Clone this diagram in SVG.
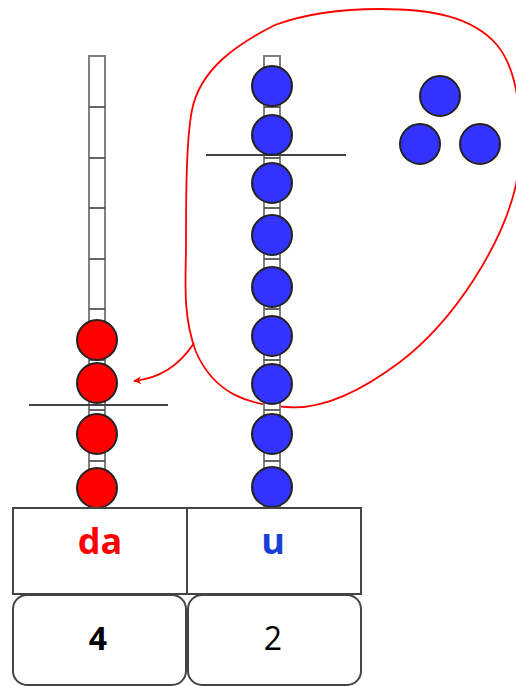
<svg xmlns="http://www.w3.org/2000/svg" width="516" height="686" viewBox="0 0 516 686">
<defs>
<style>
.rod{fill:#fff;stroke:#808080;stroke-width:2}
.rung{stroke:#555;stroke-width:1.8}
.red{fill:#ff0000;stroke:#222;stroke-width:2}
.blue{fill:#3333ff;stroke:#222;stroke-width:2}
.bar{stroke:#444;stroke-width:1.8}
.box{fill:#fff;stroke:#444;stroke-width:2}
.lbl{font-family:"Open Sans","Liberation Sans",sans-serif;font-weight:bold;font-size:36px;text-anchor:middle}
.num{font-family:"Open Sans","Liberation Sans",sans-serif;font-size:32px;text-anchor:middle;fill:#000}
</style>
<marker id="ah" viewBox="0 0 10 10" refX="9" refY="5" markerWidth="8" markerHeight="8" orient="auto" markerUnits="userSpaceOnUse">
<path d="M0,0 L10,5 L0,10 L3,5 Z" fill="#ff0000"/>
</marker>
</defs>
<rect width="516" height="686" fill="#fff"/>

<g id="blob">
<path d="M380,9 C430,9 472,16 497,45 C522,75 524,140 516,185 C502,245 455,320 400,362 C360,392 320,410 287,407 C250,405 215,395 196,352 C184,320 185,290 186,250 C186,200 186,140 192,110 C200,70 235,45 275,25 C310,12 345,9 380,9 Z" fill="none" stroke="#ff0000" stroke-width="1.8"/>
</g>

<g id="rod-da">
<rect class="rod" x="89" y="56" width="16" height="452"/>
<g class="rung">
<line x1="89" y1="107" x2="105" y2="107"/>
<line x1="89" y1="158" x2="105" y2="158"/>
<line x1="89" y1="208" x2="105" y2="208"/>
<line x1="89" y1="259" x2="105" y2="259"/>
<line x1="89" y1="309" x2="105" y2="309"/>
<line x1="89" y1="360" x2="105" y2="360"/>
<line x1="89" y1="410" x2="105" y2="410"/>
<line x1="89" y1="461" x2="105" y2="461"/>
</g>
<line class="bar" x1="29" y1="405" x2="168" y2="405"/>
<circle class="red" cx="97" cy="340" r="20"/>
<circle class="red" cx="97" cy="383" r="20"/>
<circle class="red" cx="97" cy="434" r="20"/>
<circle class="red" cx="97" cy="488" r="20"/>
</g>

<g id="rod-u">
<rect class="rod" x="264" y="56" width="16" height="452"/>
<g class="rung">
<line x1="264" y1="107" x2="280" y2="107"/>
<line x1="264" y1="158" x2="280" y2="158"/>
<line x1="264" y1="208" x2="280" y2="208"/>
<line x1="264" y1="259" x2="280" y2="259"/>
<line x1="264" y1="309" x2="280" y2="309"/>
<line x1="264" y1="360" x2="280" y2="360"/>
<line x1="264" y1="410" x2="280" y2="410"/>
<line x1="264" y1="461" x2="280" y2="461"/>
</g>
<line class="bar" x1="206" y1="155" x2="346" y2="155"/>
<circle class="blue" cx="272" cy="86" r="20"/>
<circle class="blue" cx="272" cy="135" r="20"/>
<circle class="blue" cx="272" cy="183" r="20"/>
<circle class="blue" cx="272" cy="235" r="20"/>
<circle class="blue" cx="272" cy="287" r="20"/>
<circle class="blue" cx="272" cy="336" r="20"/>
<circle class="blue" cx="272" cy="384" r="20"/>
<circle class="blue" cx="272" cy="434" r="20"/>
<circle class="blue" cx="272" cy="487" r="20"/>
</g>

<g id="loose-beads">
<circle class="blue" cx="440" cy="96" r="20"/>
<circle class="blue" cx="420" cy="144" r="20"/>
<circle class="blue" cx="480" cy="144" r="20"/>
</g>

<g id="connectors">
<path d="M194,343 Q172,377 134,381" fill="none" stroke="#ff0000" stroke-width="1.8" marker-end="url(#ah)"/>
</g>

<g id="header">
<rect class="box" x="13" y="508" width="348" height="86"/>
<line class="box" x1="187" y1="508" x2="187" y2="594"/>
<text class="lbl" x="100" y="554" fill="#ff0000">da</text>
<text class="lbl" x="273" y="554" fill="#1a3fd6">u</text>
</g>

<g id="value-da">
<rect class="box" x="13" y="595" width="173" height="90" rx="14"/>
<text class="num" x="98" y="650" font-weight="bold">4</text>
</g>
<g id="value-u">
<rect class="box" x="188" y="595" width="173" height="90" rx="14"/>
<text class="num" x="273" y="650">2</text>
</g>
</svg>
